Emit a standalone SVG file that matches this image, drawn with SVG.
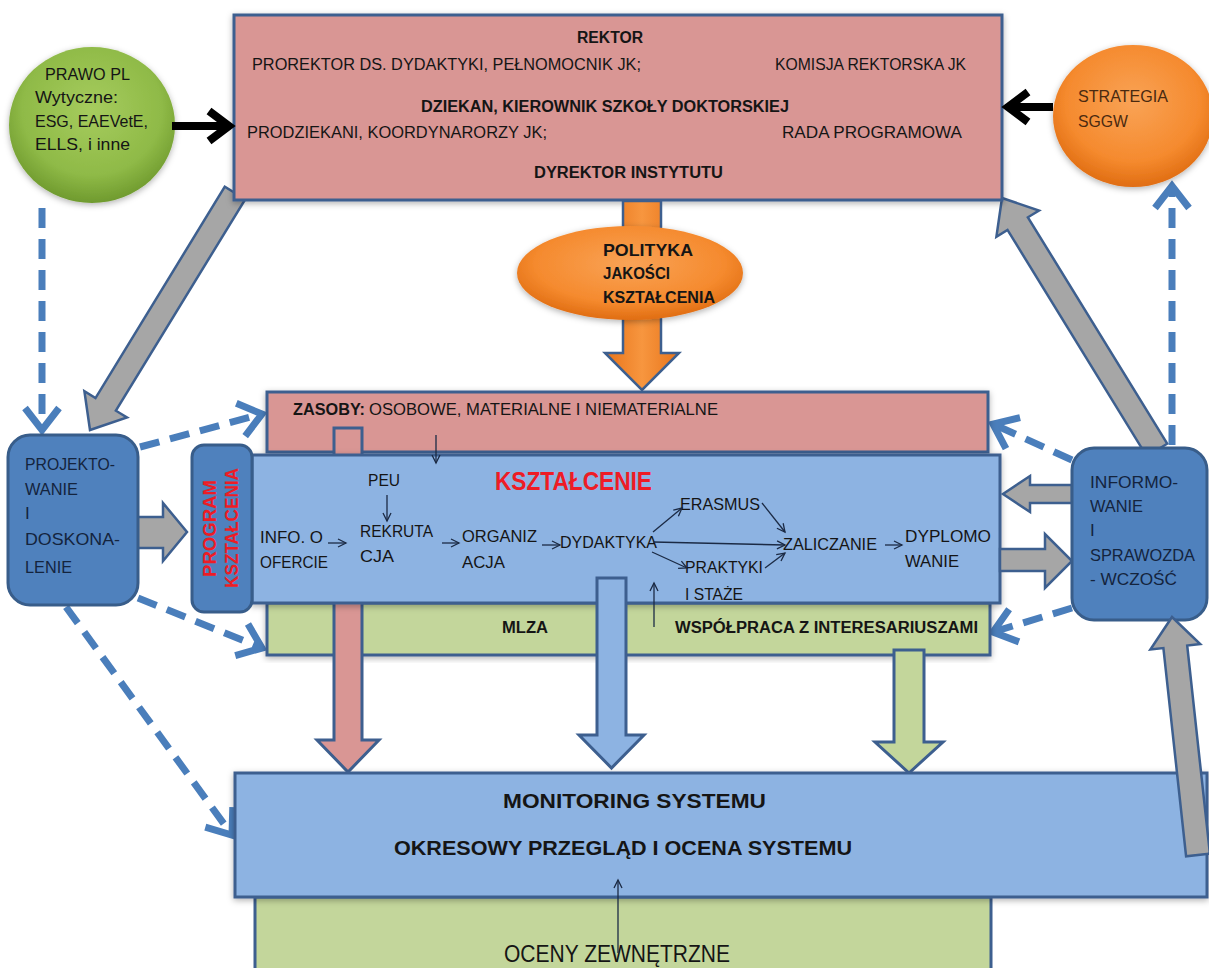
<svg xmlns="http://www.w3.org/2000/svg" width="1209" height="968" viewBox="0 0 1209 968">
<defs>
<style>
text{font-family:"Liberation Sans",Arial,sans-serif;fill:#151515}
.bx{stroke:#3d5f8f;stroke-width:3}
.sh{filter:url(#shadow)}
.pink{fill:#d99694}
.lblue{fill:#8db3e2}
.green{fill:#c3d69b}
.dblue{fill:#4f81bd;stroke:#385d8a;stroke-width:3}
.gray{fill:#a6a6a6;stroke:#3d5f8f;stroke-width:2.5}
.dash{stroke:#4a7ebb;stroke-width:7;stroke-dasharray:20 11;fill:none;marker-end:url(#chev)}
.blk{stroke:#000;stroke-width:8;fill:none;marker-end:url(#bchev)}
.thin{stroke:#1b2a44;stroke-width:1.3;fill:none;marker-end:url(#tip)}
.f16{font-size:16px}
.f17{font-size:17px}
.b{font-weight:bold}
.nav{fill:#14243d}
.red{fill:#ee1c25;font-weight:bold}
</style>
<filter id="shadow" x="-5%" y="-10%" width="110%" height="125%"><feDropShadow dx="0" dy="2" stdDeviation="3" flood-color="#000" flood-opacity="0.3"/></filter>
<marker id="chev" markerUnits="userSpaceOnUse" viewBox="0 0 30 40" markerWidth="30" markerHeight="40" refX="26" refY="20" orient="auto" overflow="visible"><path d="M4,3 L26,20 L4,37" fill="none" stroke="#4a7ebb" stroke-width="7"/></marker>
<marker id="bchev" markerUnits="userSpaceOnUse" viewBox="0 0 30 36" markerWidth="30" markerHeight="36" refX="26" refY="18" orient="auto" overflow="visible"><path d="M6,3 L26,18 L6,33" fill="none" stroke="#000" stroke-width="8"/></marker>
<marker id="tip" markerUnits="userSpaceOnUse" viewBox="0 0 10 10" markerWidth="10" markerHeight="10" refX="9" refY="5" orient="auto" overflow="visible"><path d="M1,1 L9,5 L1,9" fill="none" stroke="#1b2a44" stroke-width="1.3"/></marker>
<radialGradient id="gG" cx="50%" cy="40%" r="60%"><stop offset="0" stop-color="#a6cc5e"/><stop offset="0.7" stop-color="#8fba47"/><stop offset="1" stop-color="#6f9a2e"/></radialGradient>
<radialGradient id="gO" cx="50%" cy="40%" r="60%"><stop offset="0" stop-color="#f9a356"/><stop offset="0.7" stop-color="#f58a2e"/><stop offset="1" stop-color="#e06d12"/></radialGradient>
<linearGradient id="gOA" x1="0" y1="0" x2="1" y2="0"><stop offset="0" stop-color="#e8741a"/><stop offset="0.5" stop-color="#f7963f"/><stop offset="1" stop-color="#e8741a"/></linearGradient>
</defs>

<g id="connectors-back">
<polygon class="gray" points="224.8,186.7 95.5,398.1 84.4,391.3 90,430 127,417.5 115.9,410.7 245.2,199.3"/>
<polygon class="gray" points="1167.2,443.7 1027.9,217.3 1039,210.5 1002,198 996.4,236.7 1007.5,229.9 1146.8,456.3"/>
<line class="dash" x1="42" y1="208" x2="42" y2="430"/>
<line class="dash" x1="140" y1="447" x2="262" y2="414"/>
<line class="dash" x1="138" y1="598" x2="262" y2="648"/>
<line class="dash" x1="66" y1="607" x2="232" y2="835"/>
<line class="dash" x1="1072" y1="460" x2="993" y2="424"/>
<line class="dash" x1="1072" y1="608" x2="993" y2="632"/>
<line class="dash" x1="1172" y1="445" x2="1172" y2="186"/>
</g>

<g id="rektor">
<rect class="bx pink sh" x="234" y="15" width="768" height="185"/>
<text class="f16 b" x="577" y="43" textLength="66" lengthAdjust="spacingAndGlyphs">REKTOR</text>
<text class="f16" x="252" y="70" textLength="389" lengthAdjust="spacingAndGlyphs">PROREKTOR DS. DYDAKTYKI, PEŁNOMOCNIK JK;</text>
<text class="f16" x="775" y="70" textLength="191" lengthAdjust="spacingAndGlyphs">KOMISJA  REKTORSKA JK</text>
<text class="f16 b" x="421" y="112" textLength="368" lengthAdjust="spacingAndGlyphs">DZIEKAN, KIEROWNIK SZKOŁY DOKTORSKIEJ</text>
<text class="f16" x="247" y="138" textLength="300" lengthAdjust="spacingAndGlyphs">PRODZIEKANI, KOORDYNARORZY JK;</text>
<text class="f16" x="782" y="138" textLength="180" lengthAdjust="spacingAndGlyphs">RADA PROGRAMOWA</text>
<text class="f16 b" x="534" y="178" textLength="189" lengthAdjust="spacingAndGlyphs">DYREKTOR INSTYTUTU</text>
</g>

<g id="polityka">
<polygon fill="url(#gOA)" stroke="#3d5f8f" stroke-width="2.5" points="623,201 661,201 661,353 679,353 642,390 605,353 623,353"/>
<ellipse class="sh" cx="630" cy="273" rx="113" ry="47" fill="url(#gO)"/>
<text class="f17 b" x="603" y="256" textLength="90" lengthAdjust="spacingAndGlyphs" fill="#2a1608">POLITYKA</text>
<text class="f17 b" x="603" y="279" textLength="67" lengthAdjust="spacingAndGlyphs">JAKOŚCI</text>
<text class="f17 b" x="603" y="303" textLength="112" lengthAdjust="spacingAndGlyphs">KSZTAŁCENIA</text>
</g>

<g id="prawo">
<ellipse class="sh" cx="92" cy="125" rx="83" ry="78" fill="url(#gG)"/>
<text class="f17" x="45" y="80" textLength="85" lengthAdjust="spacingAndGlyphs">PRAWO PL</text>
<text class="f17" x="35" y="103" textLength="83" lengthAdjust="spacingAndGlyphs">Wytyczne:</text>
<text class="f17" x="35" y="127" textLength="113" lengthAdjust="spacingAndGlyphs">ESG, EAEVetE,</text>
<text class="f17" x="35" y="150" textLength="95" lengthAdjust="spacingAndGlyphs">ELLS,  i inne</text>
</g>

<g id="strategia">
<ellipse class="sh" cx="1133" cy="116" rx="80" ry="71" fill="url(#gO)"/>
<text class="f17" x="1078" y="102" textLength="90" lengthAdjust="spacingAndGlyphs" style="fill:#4a2a10">STRATEGIA</text>
<text class="f17" x="1078" y="127" textLength="50" lengthAdjust="spacingAndGlyphs" style="fill:#4a2a10">SGGW</text>
</g>

<g id="black-arrows">
<line class="blk" x1="172" y1="126" x2="229" y2="126"/>
<line class="blk" x1="1053" y1="107" x2="1008" y2="107"/>
</g>

<g id="zasoby">
<rect class="bx pink sh" x="267" y="392" width="721" height="60"/>
<text class="f16" x="293" y="415"><tspan class="b" textLength="72" lengthAdjust="spacingAndGlyphs">ZASOBY:</tspan></text>
<text class="f16" x="369" y="415" textLength="349" lengthAdjust="spacingAndGlyphs">OSOBOWE, MATERIALNE I NIEMATERIALNE</text>
</g>

<g id="mlza">
<rect class="bx green sh" x="267" y="603" width="723" height="52"/>
<text class="f16 b" x="502" y="633" textLength="46" lengthAdjust="spacingAndGlyphs">MLZA</text>
<text class="f16 b" x="675" y="633" textLength="303" lengthAdjust="spacingAndGlyphs">WSPÓŁPRACA Z INTERESARIUSZAMI</text>
</g>

<g id="connectors-down">
<polygon class="bx pink" stroke-width="2.5" points="334,428 362,428 362,740 379,740 348,772 317,740 334,740"/>
<polygon class="bx green" stroke-width="2.5" points="894,650 924,650 924,742 943,742 909,773 875,742 894,742"/>
</g>

<g id="ksztalcenie">
<rect class="bx lblue sh" x="252" y="455" width="748" height="148"/>
<text x="495" y="490" font-size="26" class="red" textLength="157" lengthAdjust="spacingAndGlyphs" style="fill:#ee1c25">KSZTAŁCENIE</text>
<text class="f17" x="368" y="486" textLength="32" lengthAdjust="spacingAndGlyphs">PEU</text>
<text class="f17" x="260" y="543" textLength="63" lengthAdjust="spacingAndGlyphs">INFO. O</text>
<text class="f17" x="260" y="568" textLength="68" lengthAdjust="spacingAndGlyphs">OFERCIE</text>
<text class="f17" x="360" y="537" textLength="73" lengthAdjust="spacingAndGlyphs">REKRUTA</text>
<text class="f17" x="360" y="562" textLength="34" lengthAdjust="spacingAndGlyphs">CJA</text>
<text class="f17" x="462" y="542" textLength="75" lengthAdjust="spacingAndGlyphs">ORGANIZ</text>
<text class="f17" x="462" y="568" textLength="43" lengthAdjust="spacingAndGlyphs">ACJA</text>
<text class="f17" x="560" y="548" textLength="97" lengthAdjust="spacingAndGlyphs">DYDAKTYKA</text>
<text class="f17" x="680" y="510" textLength="80" lengthAdjust="spacingAndGlyphs">ERASMUS</text>
<text class="f17" x="685" y="573" textLength="78" lengthAdjust="spacingAndGlyphs">PRAKTYKI</text>
<text class="f17" x="685" y="600" textLength="58" lengthAdjust="spacingAndGlyphs">I STAŻE</text>
<text class="f17" x="783" y="550" textLength="94" lengthAdjust="spacingAndGlyphs">ZALICZANIE</text>
<text class="f17" x="905" y="542" textLength="86" lengthAdjust="spacingAndGlyphs">DYPLOMO</text>
<text class="f17" x="905" y="567" textLength="54" lengthAdjust="spacingAndGlyphs">WANIE</text>
</g>

<g id="flow-arrows">
<line class="thin" x1="436" y1="435" x2="436" y2="463"/>
<line class="thin" x1="387" y1="495" x2="387" y2="521"/>
<line class="thin" x1="328" y1="543" x2="346" y2="543"/>
<line class="thin" x1="442" y1="543" x2="459" y2="543"/>
<line class="thin" x1="542" y1="545" x2="560" y2="545"/>
<line class="thin" x1="653" y1="532" x2="682" y2="508"/>
<line class="thin" x1="653" y1="542" x2="785" y2="545"/>
<line class="thin" x1="652" y1="552" x2="687" y2="568"/>
<line class="thin" x1="762" y1="503" x2="785" y2="532"/>
<line class="thin" x1="765" y1="568" x2="785" y2="553"/>
<line class="thin" x1="885" y1="545" x2="902" y2="545"/>
<line class="thin" x1="654" y1="627" x2="654" y2="583"/>
</g>

<g id="connectors-front">
<polygon class="bx lblue" stroke-width="2.5" points="597,578 626,578 626,735 644,735 611.5,768 579,735 597,735"/>
<polygon class="gray" points="136,517 163,517 163,503 187,532 163,561 163,548 136,548"/>
<polygon class="gray" points="1072,485 1030,485 1030,476 1003,494 1030,512 1030,503 1072,503"/>
<polygon class="gray" points="1000,549 1045,549 1045,534 1072,561 1045,588 1045,571 1000,571"/>
</g>

<g id="program">
<rect class="dblue" x="192" y="445" width="60" height="167" rx="12"/>
<text class="red" font-size="19" transform="translate(216,577) rotate(-90)" textLength="97" lengthAdjust="spacingAndGlyphs" style="fill:#ee1c25">PROGRAM</text>
<text class="red" font-size="19" transform="translate(238,588) rotate(-90)" textLength="120" lengthAdjust="spacingAndGlyphs" style="fill:#ee1c25">KSZTAŁCENIA</text>
</g>

<g id="projektowanie">
<rect class="dblue" x="8" y="435" width="130" height="170" rx="22"/>
<text class="f17 nav" x="25" y="470" textLength="90" lengthAdjust="spacingAndGlyphs">PROJEKTO-</text>
<text class="f17 nav" x="25" y="495" textLength="53" lengthAdjust="spacingAndGlyphs">WANIE</text>
<text class="f17 nav" x="25" y="519">I</text>
<text class="f17 nav" x="25" y="545" textLength="95" lengthAdjust="spacingAndGlyphs">DOSKONA-</text>
<text class="f17 nav" x="25" y="573" textLength="47" lengthAdjust="spacingAndGlyphs">LENIE</text>
</g>

<g id="informowanie">
<rect class="dblue" x="1072" y="448" width="135" height="172" rx="22"/>
<text class="f17 nav" x="1090" y="488" textLength="88" lengthAdjust="spacingAndGlyphs">INFORMO-</text>
<text class="f17 nav" x="1090" y="512" textLength="53" lengthAdjust="spacingAndGlyphs">WANIE</text>
<text class="f17 nav" x="1090" y="536">I</text>
<text class="f17 nav" x="1090" y="561" textLength="105" lengthAdjust="spacingAndGlyphs">SPRAWOZDA</text>
<text class="f17 nav" x="1090" y="585" textLength="87" lengthAdjust="spacingAndGlyphs">- WCZOŚĆ</text>
</g>

<g id="oceny">
<rect class="bx green" x="255" y="897" width="736" height="90"/>
<text x="504" y="962" font-size="23" textLength="226" lengthAdjust="spacingAndGlyphs">OCENY ZEWNĘTRZNE</text>
</g>

<g id="monitoring">
<rect class="bx lblue sh" x="235" y="773" width="972" height="124"/>
<text x="503" y="808" font-size="21" class="b" textLength="263" lengthAdjust="spacingAndGlyphs">MONITORING SYSTEMU</text>
<text x="394" y="855" font-size="21" class="b" textLength="458" lengthAdjust="spacingAndGlyphs">OKRESOWY  PRZEGLĄD I OCENA SYSTEMU</text>
</g>

<g id="connectors-top">
<line class="thin" x1="618" y1="953" x2="618" y2="880"/>
<polygon class="gray" points="1209.9,853.7 1187.2,645.5 1200.2,644.1 1172,617 1150.4,649.5 1163.4,648.1 1186.1,856.3"/>
</g>
</svg>
